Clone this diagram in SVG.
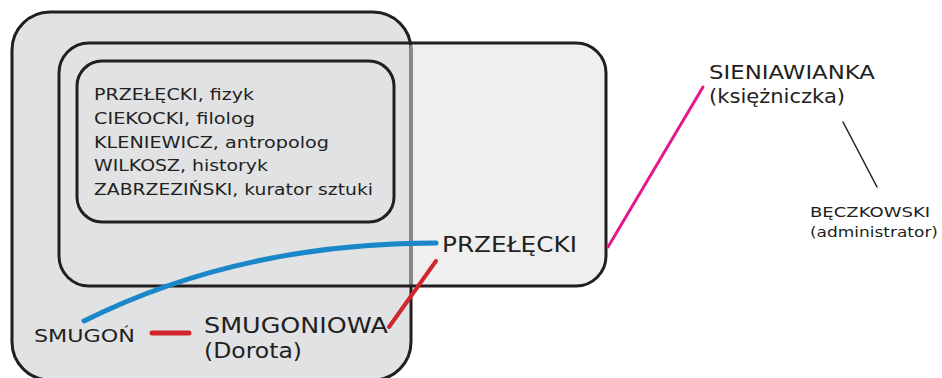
<svg xmlns="http://www.w3.org/2000/svg" width="942" height="378" viewBox="0 0 942 378">
<style>
.box{stroke:#231f20;stroke-width:3;}
.t{font-family:"DejaVu Sans","Noto Sans",sans-serif;fill:#231f20;}
.conn{fill:none;stroke-linecap:round;}
</style>
<rect width="942" height="378" fill="#ffffff"/>
<g id="group-middle-fill">
<rect x="59" y="43" width="547" height="243" rx="30" fill="#efefef"/>
</g>
<g id="group-outer">
<rect class="box" x="12" y="12" width="399" height="368" rx="38" fill="#e1e2e4"/>
</g>
<g id="group-middle">
<line x1="411" y1="45" x2="411" y2="285" stroke="#8a8a8a" stroke-width="3"/>
<rect class="box" x="59" y="43" width="547" height="243" rx="30" fill="none"/>
</g>
<g id="group-inner">
<rect class="box" x="77" y="61" width="317" height="161" rx="25" fill="#e1e2e4"/>
<text class="t" font-size="16.5" x="94" y="100" textLength="160" lengthAdjust="spacingAndGlyphs">PRZEŁĘCKI, fizyk</text>
<text class="t" font-size="16.5" x="94" y="124" textLength="161" lengthAdjust="spacingAndGlyphs">CIEKOCKI, filolog</text>
<text class="t" font-size="16.5" x="94" y="148" textLength="235" lengthAdjust="spacingAndGlyphs">KLENIEWICZ, antropolog</text>
<text class="t" font-size="16.5" x="94" y="171" textLength="174" lengthAdjust="spacingAndGlyphs">WILKOSZ, historyk</text>
<text class="t" font-size="16.5" x="94" y="195" textLength="279" lengthAdjust="spacingAndGlyphs">ZABRZEZIŃSKI, kurator sztuki</text>
</g>
<g id="connectors">
<path class="conn" d="M84 321 Q240 243 436 243" stroke="#1a87c9" stroke-width="5"/>
<line class="conn" x1="152" y1="333" x2="189" y2="333" stroke="#d1262d" stroke-width="5" stroke-linecap="butt"/>
<line class="conn" x1="389" y1="327" x2="436" y2="261" stroke="#d1262d" stroke-width="4"/>
<line class="conn" x1="608" y1="247" x2="703" y2="87" stroke="#e6178a" stroke-width="3"/>
<line class="conn" x1="843" y1="122" x2="877" y2="187" stroke="#231f20" stroke-width="1.5"/>
</g>
<g id="node-przelecki">
<text class="t" font-size="22" x="442" y="252" textLength="135" lengthAdjust="spacingAndGlyphs">PRZEŁĘCKI</text>
</g>
<g id="node-smugon">
<text class="t" font-size="17" x="34" y="342" textLength="101" lengthAdjust="spacingAndGlyphs">SMUGOŃ</text>
</g>
<g id="node-smugoniowa">
<text class="t" font-size="21" x="204" y="333" textLength="184" lengthAdjust="spacingAndGlyphs">SMUGONIOWA</text>
<text class="t" font-size="21" x="204" y="358" textLength="98" lengthAdjust="spacingAndGlyphs">(Dorota)</text>
</g>
<g id="node-sieniawianka">
<text class="t" font-size="19.5" x="709" y="79" textLength="166" lengthAdjust="spacingAndGlyphs">SIENIAWIANKA</text>
<text class="t" font-size="19.5" x="709" y="103" textLength="136" lengthAdjust="spacingAndGlyphs">(księżniczka)</text>
</g>
<g id="node-beczkowski">
<text class="t" font-size="14.5" x="810" y="217" textLength="120" lengthAdjust="spacingAndGlyphs">BĘCZKOWSKI</text>
<text class="t" font-size="14.5" x="810" y="237" textLength="128" lengthAdjust="spacingAndGlyphs">(administrator)</text>
</g>
</svg>
